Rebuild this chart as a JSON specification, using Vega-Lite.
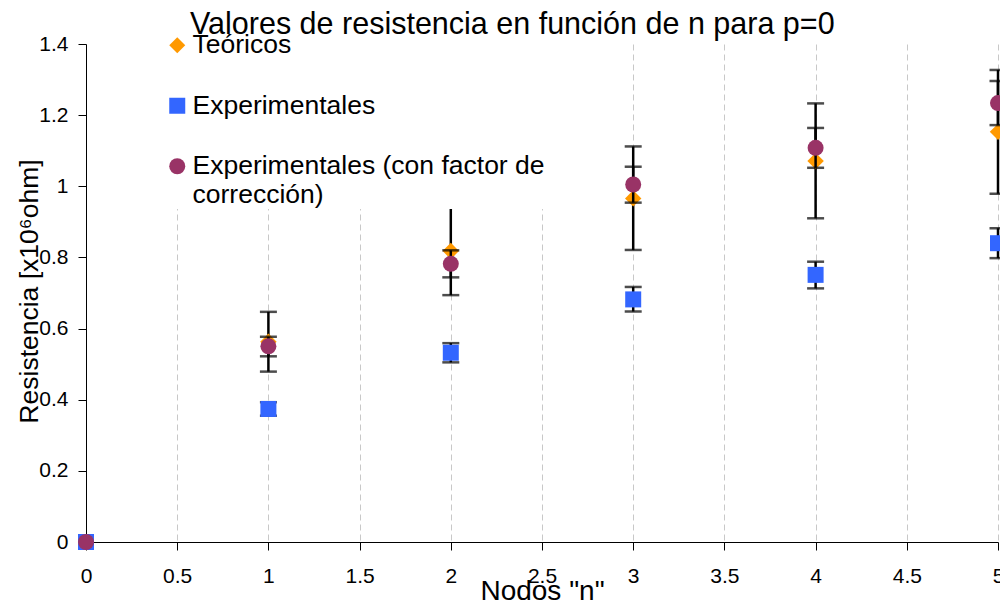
{
  "$schema": "https://vega.github.io/schema/vega-lite/v6.json",
  "width": 912,
  "height": 498,
  "autosize": {"type": "none"},
  "padding": {"left": 86, "top": 44, "right": 2, "bottom": 61},
  "background": "white",
  "title": {
    "text": "Valores de resistencia en función de n para p=0",
    "anchor": "start",
    "frame": "group",
    "dx": 104,
    "fontSize": 30.5,
    "font": "Liberation Sans",
    "fontWeight": "normal",
    "color": "black",
    "baseline": "alphabetic",
    "offset": -32
  },
  "config": {"view": {"stroke": null}, "font": "Liberation Sans"},
  "data": {
    "values": [
      {"n": 0, "serie": "Teóricos", "valor": 0, "lo": null, "hi": null},
      {"n": 1, "serie": "Teóricos", "valor": 0.563, "lo": 0.479, "hi": 0.647},
      {"n": 2, "serie": "Teóricos", "valor": 0.818, "lo": 0.694, "hi": 0.942},
      {"n": 3, "serie": "Teóricos", "valor": 0.966, "lo": 0.821, "hi": 1.112},
      {"n": 4, "serie": "Teóricos", "valor": 1.071, "lo": 0.910, "hi": 1.233},
      {"n": 5, "serie": "Teóricos", "valor": 1.153, "lo": 0.979, "hi": 1.327},
      {"n": 0, "serie": "Experimentales", "valor": 0, "lo": null, "hi": null},
      {"n": 1, "serie": "Experimentales", "valor": 0.374, "lo": 0.355, "hi": 0.393},
      {"n": 2, "serie": "Experimentales", "valor": 0.532, "lo": 0.505, "hi": 0.559},
      {"n": 3, "serie": "Experimentales", "valor": 0.682, "lo": 0.648, "hi": 0.717},
      {"n": 4, "serie": "Experimentales", "valor": 0.751, "lo": 0.713, "hi": 0.788},
      {"n": 5, "serie": "Experimentales", "valor": 0.840, "lo": 0.798, "hi": 0.882},
      {"n": 0, "serie": "Experimentales (con factor de corrección)", "valor": 0, "lo": null, "hi": null},
      {"n": 1, "serie": "Experimentales (con factor de corrección)", "valor": 0.550, "lo": 0.522, "hi": 0.577},
      {"n": 2, "serie": "Experimentales (con factor de corrección)", "valor": 0.782, "lo": 0.744, "hi": 0.820},
      {"n": 3, "serie": "Experimentales (con factor de corrección)", "valor": 1.005, "lo": 0.954, "hi": 1.055},
      {"n": 4, "serie": "Experimentales (con factor de corrección)", "valor": 1.108, "lo": 1.052, "hi": 1.164},
      {"n": 5, "serie": "Experimentales (con factor de corrección)", "valor": 1.234, "lo": 1.172, "hi": 1.296}
    ]
  },
  "layer": [
    {
      "transform": [{"filter": "datum.lo != null && datum.serie == 'Teóricos'"}],
      "mark": {"type": "errorbar", "ticks": {"size": 17, "thickness": 2.5, "color": "black"}, "thickness": 2.5, "color": "black"},
      "encoding": {
        "x": {"field": "n", "type": "quantitative", "scale": {"domain": [0, 5], "nice": false}, "title": "Nodos \"n\""},
        "y": {"field": "lo", "type": "quantitative", "scale": {"domain": [0, 1.4], "nice": false}, "title": "Resistencia [x10⁶ohm]"},
        "y2": {"field": "hi"}
      }
    },
    {
      "transform": [{"filter": "datum.serie == 'Teóricos'"}],
      "mark": {"type": "point", "filled": true, "opacity": 1, "size": 270},
      "encoding": {
        "x": {
          "field": "n", "type": "quantitative",
          "scale": {"domain": [0, 5], "nice": false},
          "title": "Nodos \"n\"",
          "axis": {
            "values": [0, 0.5, 1, 1.5, 2, 2.5, 3, 3.5, 4, 4.5, 5],
            "format": ".1~f",
            "grid": true, "gridDash": [6, 4], "gridColor": "#c8c8c8", "gridWidth": 1,
            "domainColor": "black", "tickColor": "black", "tickSize": 8,
            "labelFontSize": 21, "labelColor": "black", "labelPadding": 15, "labelFont": "Liberation Sans",
            "labelFlush": false,
            "titleFontSize": 28, "titleFontWeight": "normal", "titleColor": "black", "titlePadding": -9, "titleFont": "Liberation Sans"
          }
        },
        "y": {
          "field": "valor", "type": "quantitative",
          "scale": {"domain": [0, 1.4], "nice": false},
          "title": "Resistencia [x10⁶ohm]",
          "axis": {
            "values": [0, 0.2, 0.4, 0.6, 0.8, 1, 1.2, 1.4],
            "format": ".1~f",
            "grid": false,
            "domainColor": "black", "tickColor": "black", "tickSize": 8,
            "labelFontSize": 21, "labelColor": "black", "labelPadding": 10, "labelFont": "Liberation Sans",
            "labelFlush": false,
            "titleFontSize": 26.5, "titleFontWeight": "normal", "titleColor": "black", "titlePadding": -5, "titleFont": "Liberation Sans",
            "titleY": 247
          }
        },
        "color": {
          "field": "serie", "type": "nominal",
          "scale": {"domain": ["Teóricos", "Experimentales", "Experimentales (con factor de corrección)"], "range": ["#FF9900", "#3366FF", "#993366"]},
          "legend": {
            "orient": "none", "legendX": 78, "legendY": -12, "title": null,
            "fillColor": "white", "padding": 0,
            "labelFontSize": 26.5, "labelFont": "Liberation Sans", "labelColor": "black",
            "symbolSize": 256, "symbolStrokeWidth": 0, "rowPadding": 33.5, "labelOffset": 2, "labelLimit": 0,
            "labelExpr": "datum.value == 'Experimentales (con factor de corrección)' ? ['Experimentales (con factor de', 'corrección)'] : datum.label",
            "encode": {"labels": {
              "update": {"dy": [{"test": "datum.value == 'Experimentales (con factor de corrección)'", "value": 17.5}, {"value": 0}]}
            }}
          }
        },
        "shape": {
          "field": "serie", "type": "nominal",
          "scale": {"domain": ["Teóricos", "Experimentales", "Experimentales (con factor de corrección)"], "range": ["diamond", "square", "circle"]},
          "legend": null
        }
      }
    },
    {
      "transform": [{"filter": "datum.lo != null && datum.serie == 'Experimentales'"}],
      "mark": {"type": "errorbar", "ticks": {"size": 17, "thickness": 2.5, "color": "black"}, "thickness": 2.5, "color": "black"},
      "encoding": {
        "x": {"field": "n", "type": "quantitative", "title": "Nodos \"n\""},
        "y": {"field": "lo", "type": "quantitative", "title": "Resistencia [x10⁶ohm]"},
        "y2": {"field": "hi"}
      }
    },
    {
      "transform": [{"filter": "datum.serie == 'Experimentales'"}],
      "mark": {"type": "point", "filled": true, "opacity": 1, "size": 256},
      "encoding": {
        "x": {"field": "n", "type": "quantitative", "title": "Nodos \"n\""},
        "y": {"field": "valor", "type": "quantitative", "title": "Resistencia [x10⁶ohm]"},
        "color": {"field": "serie", "type": "nominal"},
        "shape": {"field": "serie", "type": "nominal"}
      }
    },
    {
      "transform": [{"filter": "datum.lo != null && datum.serie == 'Experimentales (con factor de corrección)'"}],
      "mark": {"type": "errorbar", "ticks": {"size": 17, "thickness": 2.5, "color": "black"}, "thickness": 2.5, "color": "black"},
      "encoding": {
        "x": {"field": "n", "type": "quantitative", "title": "Nodos \"n\""},
        "y": {"field": "lo", "type": "quantitative", "title": "Resistencia [x10⁶ohm]"},
        "y2": {"field": "hi"}
      }
    },
    {
      "transform": [{"filter": "datum.serie == 'Experimentales (con factor de corrección)'"}],
      "mark": {"type": "point", "filled": true, "opacity": 1, "size": 256},
      "encoding": {
        "x": {"field": "n", "type": "quantitative", "title": "Nodos \"n\""},
        "y": {"field": "valor", "type": "quantitative", "title": "Resistencia [x10⁶ohm]"},
        "color": {"field": "serie", "type": "nominal"},
        "shape": {"field": "serie", "type": "nominal"}
      }
    }
  ]
}
